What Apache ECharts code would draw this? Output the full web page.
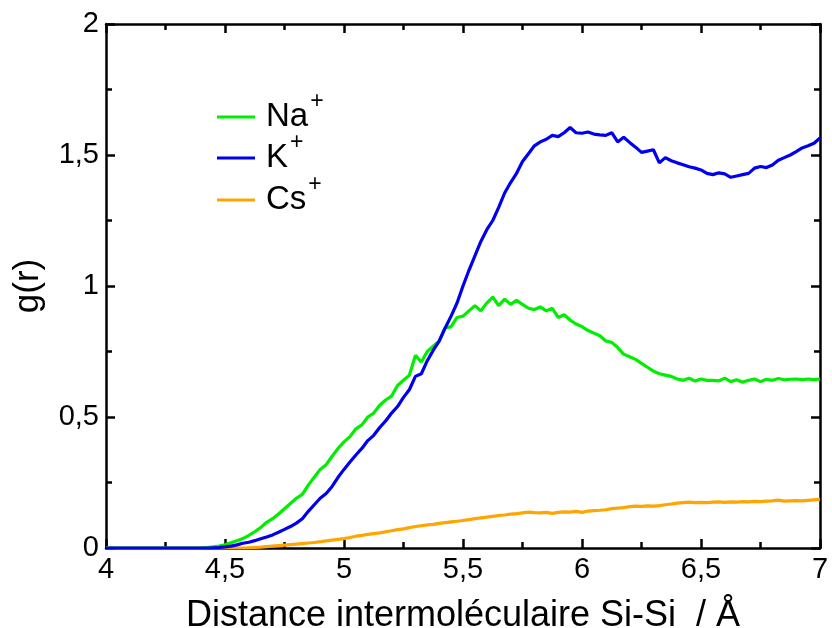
<!DOCTYPE html>
<html>
<head>
<meta charset="utf-8">
<script src="https://cdn.jsdelivr.net/npm/echarts@6/dist/echarts.min.js"></script>
<style>html,body{margin:0;padding:0;background:#fff}#c{width:832px;height:628px}</style>
</head>
<body>
<div id="c"></div>
<script>
// r (Å)
const r = [4.000,4.025,4.050,4.075,4.100,4.125,4.150,4.175,4.200,4.225,4.250,4.275,4.300,4.325,4.350,4.375,4.400,4.425,4.450,4.475,
4.500,4.525,4.550,4.575,4.600,4.625,4.650,4.675,4.700,4.725,4.750,4.775,4.800,4.825,4.850,4.875,4.900,4.925,4.950,4.975,
5.000,5.025,5.050,5.075,5.100,5.125,5.150,5.175,5.200,5.225,5.250,5.275,5.300,5.325,5.350,5.375,5.400,5.425,5.450,5.475,
5.500,5.525,5.550,5.575,5.600,5.625,5.650,5.675,5.700,5.725,5.750,5.775,5.800,5.825,5.850,5.875,5.900,5.925,5.950,5.975,
6.000,6.025,6.050,6.075,6.100,6.125,6.150,6.175,6.200,6.225,6.250,6.275,6.300,6.325,6.350,6.375,6.400,6.425,6.450,6.475,
6.500,6.525,6.550,6.575,6.600,6.625,6.650,6.675,6.700,6.725,6.750,6.775,6.800,6.825,6.850,6.875,6.900,6.925,6.950,6.975,7.000];

const gNa = [0,0,0,0,0,0,0,0,0,0,0,0,0,0,0,0,0,0.002,0.004,0.007,
0.012,0.020,0.028,0.036,0.048,0.062,0.078,0.098,0.112,0.130,0.150,0.170,0.190,0.205,0.240,0.270,0.300,0.318,0.350,0.380,
0.405,0.425,0.455,0.470,0.500,0.515,0.545,0.565,0.580,0.620,0.640,0.660,0.735,0.710,0.750,0.770,0.790,0.840,0.845,0.880,
0.885,0.905,0.925,0.905,0.935,0.958,0.925,0.950,0.930,0.945,0.930,0.915,0.910,0.920,0.905,0.915,0.880,0.890,0.870,0.855,
0.845,0.830,0.820,0.810,0.790,0.785,0.765,0.740,0.730,0.720,0.705,0.690,0.675,0.665,0.660,0.655,0.645,0.640,0.648,0.637,
0.645,0.640,0.640,0.638,0.648,0.635,0.642,0.633,0.640,0.645,0.635,0.644,0.640,0.647,0.642,0.644,0.645,0.643,0.645,0.643,0.645];

const gK = [0,0,0,0,0,0,0,0,0,0,0,0,0,0,0,0,0,0,0.001,0.002,
0.004,0.007,0.012,0.018,0.022,0.028,0.035,0.042,0.050,0.060,0.071,0.082,0.095,0.112,0.140,0.165,0.190,0.208,0.235,0.270,
0.300,0.328,0.355,0.380,0.410,0.430,0.460,0.485,0.515,0.540,0.575,0.605,0.655,0.665,0.715,0.755,0.790,0.840,0.885,0.935,
1.000,1.060,1.115,1.170,1.215,1.250,1.300,1.355,1.395,1.430,1.475,1.505,1.535,1.550,1.560,1.575,1.570,1.585,1.605,1.585,
1.583,1.588,1.580,1.577,1.575,1.585,1.550,1.568,1.548,1.530,1.510,1.515,1.520,1.470,1.490,1.478,1.470,1.463,1.455,1.450,
1.443,1.430,1.425,1.432,1.428,1.415,1.420,1.425,1.430,1.450,1.456,1.452,1.462,1.480,1.490,1.500,1.513,1.527,1.535,1.545,1.565];

const gCs = [0,0,0,0,0,0,0,0,0,0,0,0,0,0,0,0,0,0,0,0,
0,0,0,0,0.001,0.002,0.003,0.005,0.007,0.009,0.011,0.013,0.015,0.017,0.019,0.021,0.024,0.027,0.030,0.033,
0.036,0.040,0.045,0.048,0.052,0.055,0.058,0.062,0.066,0.070,0.073,0.078,0.082,0.085,0.088,0.090,0.094,0.097,0.100,0.102,
0.105,0.108,0.112,0.115,0.118,0.121,0.124,0.126,0.129,0.131,0.134,0.137,0.135,0.134,0.136,0.132,0.136,0.138,0.137,0.140,
0.136,0.141,0.143,0.144,0.146,0.150,0.152,0.154,0.158,0.160,0.159,0.161,0.160,0.162,0.165,0.168,0.171,0.173,0.175,0.173,
0.174,0.173,0.175,0.176,0.174,0.176,0.175,0.177,0.176,0.178,0.177,0.179,0.180,0.183,0.179,0.180,0.181,0.180,0.182,0.184,0.186];

const seriesNames = ['Na', 'K', 'Cs'];
const xTitle = 'Distance intermoléculaire Si-Si  / Å';
const yTitle = 'g(r)';

const FONT = 'Liberation Sans, Arial, Helvetica, sans-serif';
const comma = v => String(v).replace('.', ',');
const pairs = ys => r.map((x, i) => [x, ys[i]]);

const tickCommon = {
  axisLine: { show: true, onZero: false, lineStyle: { color: '#000', width: 2.5 } },
  axisTick: { show: true, inside: true, length: 9, lineStyle: { color: '#000', width: 2.5 } },
  minorTick: { show: true, splitNumber: 2, length: 6, lineStyle: { color: '#000', width: 2.5 } },
  splitLine: { show: false },
  minorSplitLine: { show: false }
};

const legendTops = [85, 126, 168];
const legends = seriesNames.map((n, i) => ({
  orient: 'vertical',
  left: 212, top: legendTops[i],
  itemWidth: 38, itemHeight: 12,
  icon: 'path://M0,5 L38,5 L38,8 L0,8 Z',
  formatter: nm => '{b|' + nm + '}{s|+}',
  textStyle: {
    color: '#000',
    rich: {
      b: { fontSize: 33, fontFamily: FONT, color: '#000', lineHeight: 54, padding: [0, 0, 0, 6] },
      s: { fontSize: 23, fontFamily: FONT, color: '#000', verticalAlign: 'top', lineHeight: 1, padding: [0, 0, 0, 2] }
    }
  },
  data: [n]
}));

const chart = echarts.init(document.getElementById('c'), null, { renderer: 'canvas' });
chart.setOption({
  animation: false,
  backgroundColor: '#fff',
  textStyle: { fontFamily: FONT },
  grid: { left: 106, right: 12, top: 24, bottom: 80, containLabel: false, outerBoundsMode: 'none' },
  legend: legends,
  xAxis: [
    Object.assign({
      type: 'value', min: 4, max: 7, interval: 0.5, position: 'bottom',
      axisLabel: { show: true, color: '#000', fontSize: 29, margin: 7, fontFamily: FONT, formatter: comma },
      name: xTitle, nameLocation: 'middle', nameGap: 50,
      nameTextStyle: { color: '#000', fontSize: 36, fontFamily: FONT }
    }, tickCommon),
    Object.assign({
      type: 'value', min: 4, max: 7, interval: 0.5, position: 'top',
      axisLabel: { show: false }
    }, tickCommon)
  ],
  yAxis: [
    Object.assign({
      type: 'value', min: 0, max: 2, interval: 0.5, position: 'left',
      axisLabel: { show: true, color: '#000', fontSize: 29, margin: 7, fontFamily: FONT, formatter: comma },
      name: yTitle, nameLocation: 'middle', nameGap: 60,
      nameTextStyle: { color: '#000', fontSize: 35, fontFamily: FONT }
    }, tickCommon),
    Object.assign({
      type: 'value', min: 0, max: 2, interval: 0.5, position: 'right',
      axisLabel: { show: false }
    }, tickCommon)
  ],
  series: [
    { name: 'Na', type: 'line', data: pairs(gNa), showSymbol: false, symbol: 'none', z: 3,
      lineStyle: { color: '#00ee00', width: 3.2 }, itemStyle: { color: '#00ee00' } },
    { name: 'K', type: 'line', data: pairs(gK), showSymbol: false, symbol: 'none', z: 4,
      lineStyle: { color: '#0000ee', width: 3.2 }, itemStyle: { color: '#0000ee' } },
    { name: 'Cs', type: 'line', data: pairs(gCs), showSymbol: false, symbol: 'none', z: 2,
      lineStyle: { color: '#ffa500', width: 3.2 }, itemStyle: { color: '#ffa500' } }
  ]
});
</script>
</body>
</html>
